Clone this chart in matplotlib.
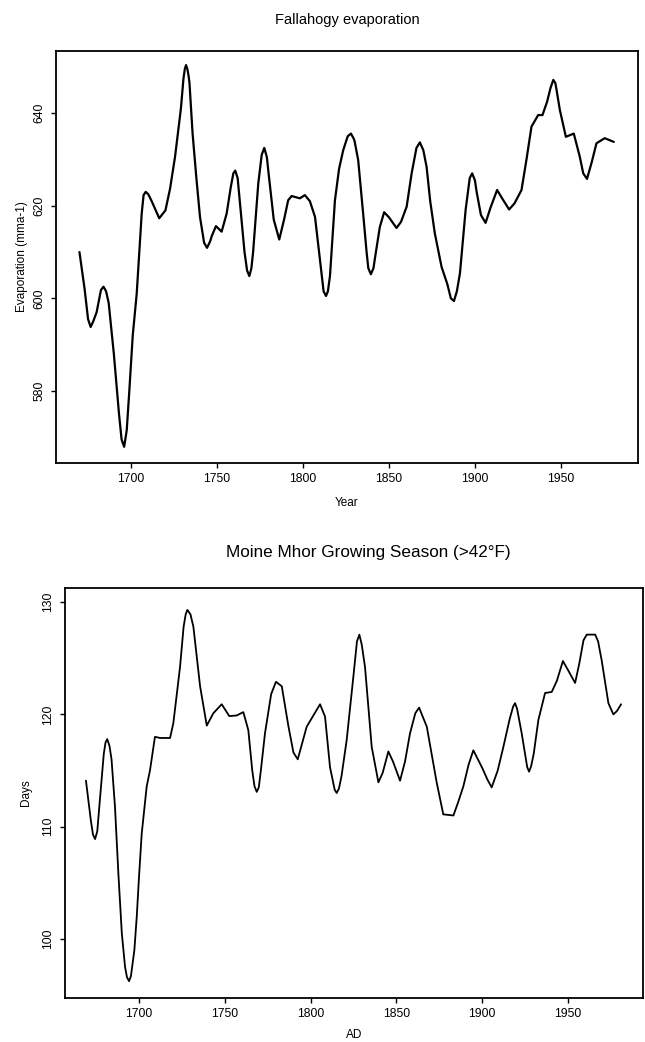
import matplotlib
matplotlib.use("Agg")
import matplotlib.pyplot as plt

plt.rcParams['font.family'] = ['Liberation Sans', 'DejaVu Sans']

# Fallahogy evaporation (mm a-1)
evap_year = [1670, 1673, 1675, 1676.5, 1678, 1680, 1682.5, 1684, 1685.5, 1687, 1690, 1693,
             1694.5, 1696, 1697.5, 1699, 1701, 1703.3,
             1706.2, 1707.3, 1708.5, 1710, 1712, 1716.4, 1720, 1722.7, 1725.6, 1729, 1730.5,
             1731.3, 1732, 1732.8, 1733.5, 1734, 1735.8,
             1738, 1740.1, 1742.5, 1744.2, 1746, 1747, 1749.4, 1752.7, 1755.6, 1758, 1759.5,
             1760.6, 1762, 1763, 1766, 1767.5,
             1768.8, 1770, 1771, 1774, 1776, 1777.5, 1779, 1780, 1783, 1786.2, 1789, 1791.4,
             1793.4, 1798.2,
             1801.1, 1804, 1807, 1810, 1812, 1813.4, 1814.5, 1815.7, 1818.6, 1821, 1823.4,
             1826, 1827.9, 1829.5, 1830,
             1832.1, 1835, 1837, 1838, 1839.5, 1841, 1842, 1844.7, 1847.2, 1850, 1854.4, 1857,
             1860.3,
             1863.2, 1866, 1868, 1870, 1871.9, 1874, 1876.7, 1880.6, 1884, 1886, 1887.8,
             1889.5, 1891.3,
             1894.6, 1897, 1898.4, 1900, 1901, 1903.5, 1906.2, 1909, 1912.9, 1916, 1919.9,
             1923, 1927.1,
             1930, 1932.9, 1936.8, 1939.3, 1942, 1944, 1945.6, 1946.8, 1947.5, 1949.4, 1952.9,
             1957.5,
             1961, 1963, 1965.2, 1968, 1970.7, 1975.5, 1980.8]
evap_val = [610.0, 602.0, 595.5, 593.8, 595.0, 597.0, 601.8, 602.5, 601.5, 599.0, 588.0, 575.0,
            569.5, 567.9, 571.5, 580.0, 592.0, 601.0,
            618.3, 622.3, 623.0, 622.5, 621.0, 617.3, 619.0, 623.7, 630.6, 641.0, 647.5,
            649.6, 650.4, 649.5, 648.0, 646.5, 635.6,
            626.0, 617.6, 612.0, 610.9, 612.3, 613.5, 615.6, 614.4, 618.3, 624.0, 627.0,
            627.6, 626.0, 622.0, 610.0, 606.0,
            604.8, 606.5, 610.0, 624.8, 631.0, 632.5, 630.5, 627.0, 617.0, 612.7, 617.0, 621.2,
            622.1, 621.6,
            622.3, 621.0, 617.6, 608.0, 601.5, 600.5, 601.5, 604.8, 621.2, 628.0, 632.0,
            635.0, 635.6, 634.5, 634.0,
            629.9, 618.3, 610.0, 606.5, 605.2, 606.5, 609.0, 615.4, 618.6, 617.5, 615.2, 616.5,
            619.8,
            627.0, 632.5, 633.7, 632.0, 628.4, 621.0, 614.0, 606.8, 603.0, 600.0, 599.4,
            601.5, 605.4,
            619.1, 626.0, 627.0, 625.5, 623.0, 618.0, 616.3, 619.5, 623.4, 621.5, 619.2,
            620.5, 623.4,
            630.0, 637.1, 639.6, 639.6, 642.5, 645.5, 647.2, 646.5, 645.0, 640.7, 634.9,
            635.6,
            630.6, 627.0, 625.8, 629.5, 633.5, 634.6, 633.8]

# Moine Mhor growing season (>42F), days
grow_year = [1669.1, 1672, 1673.2, 1674.4, 1675.7, 1677, 1679.5, 1680.5, 1681.5, 1682.8, 1684,
             1686, 1688, 1690, 1691.9,
             1693, 1694.2, 1695.3, 1696, 1697.3, 1698.7, 1700, 1701.6, 1704.5, 1706.4, 1709.3,
             1712.3,
             1718.1, 1720, 1723.9, 1726, 1727.2, 1728.2, 1730, 1731.7, 1735.6, 1739.5, 1743.3,
             1748.2, 1752.6, 1756.9, 1760.8, 1763.7, 1766, 1767.3, 1768.6, 1769.8, 1771, 1773.4,
             1777,
             1779.8, 1783.2, 1787, 1790, 1792.5, 1797.7, 1801.6, 1805.5, 1808.4, 1811.3,
             1814, 1815.2, 1816.5, 1818, 1821, 1825, 1827, 1828.4, 1829.8, 1831.7, 1835.6,
             1839.5, 1842, 1845.3, 1848,
             1852.1, 1855, 1857.9, 1861, 1863.2, 1867.7, 1873.5, 1877.3, 1883.2, 1886,
             1889, 1892, 1894.8, 1900.1, 1903, 1905.5, 1909, 1912.3, 1916, 1918, 1919.1,
             1920.3, 1923,
             1926.2, 1927.3, 1928.5, 1930, 1932.7, 1936.6, 1940.5, 1943.5, 1947, 1950.5,
             1954.1, 1956.5,
             1959, 1960.9, 1965.8, 1967.5, 1969.6, 1973.5, 1976.4, 1978.5, 1980.9]
grow_val = [114.1, 110.5, 109.3, 108.9, 109.6, 112.0, 116.5, 117.5, 117.8, 117.2, 116.0,
            111.8, 105.8, 100.5, 97.5,
            96.6, 96.25, 96.7, 97.5, 99.0, 102.0, 105.5, 109.4, 113.6, 115.0, 118.0,
            117.9,
            117.9, 119.2, 124.2, 127.8, 128.9, 129.3, 128.9, 127.8, 122.5, 119.0, 120.1,
            120.9, 119.85, 119.9, 120.2, 118.6, 115.0, 113.6, 113.1, 113.5, 115.0, 118.3,
            121.8,
            122.9, 122.5, 119.0, 116.6, 116.0, 118.9, 119.9, 120.9, 119.8, 115.3,
            113.3, 113.0, 113.4, 114.5, 117.7, 123.5, 126.5, 127.1, 126.2, 124.2, 117.1,
            113.95, 114.8, 116.7, 115.8,
            114.1, 115.8, 118.3, 120.1, 120.6, 118.9, 113.9, 111.1, 111.0, 112.2,
            113.6, 115.5, 116.8, 115.2, 114.2, 113.5, 115.0, 117.1, 119.6, 120.7, 121.0,
            120.5, 118.3,
            115.3, 114.9, 115.4, 116.5, 119.5, 121.9, 122.0, 123.0, 124.75, 123.8,
            122.8, 124.5,
            126.6, 127.1, 127.1, 126.5, 124.8, 121.0, 120.0, 120.3, 120.9]

evap_ticks = [580, 600, 620, 640]
grow_ticks = [100, 110, 120, 130]
year_ticks = [1700, 1750, 1800, 1850, 1900, 1950]

fig = plt.figure(figsize=(6.45, 10.42), dpi=100)

def style(ax):
    for s in ax.spines.values():
        s.set_linewidth(1.3)
        s.set_color('black')
    ax.tick_params(direction='out', length=3.5, width=1.0, labelsize=8.8, pad=4)

ax1 = fig.add_axes([0.0864, 0.5561, 0.9026, 0.3952])
ax1.plot(evap_year, evap_val, color='black', lw=1.6, solid_joinstyle='round',
         solid_capstyle='round')
ax1.set_xlim(1656.2, 1994.8)
ax1.set_ylim(564.5, 653.5)
ax1.set_xticks(year_ticks)
ax1.set_yticks(evap_ticks)
ax1.set_yticklabels([str(t) for t in evap_ticks], rotation=90, va='center')
style(ax1)
ax1.set_title('Fallahogy evaporation', fontsize=10.5, pad=19)
ax1.set_xlabel('Year', fontsize=8.5, labelpad=9)
ax1.set_ylabel('Evaporation (mma-1)', fontsize=8.5, labelpad=4)

ax2 = fig.add_axes([0.1000, 0.0422, 0.8970, 0.3935])
ax2.plot(grow_year, grow_val, color='black', lw=1.3, solid_joinstyle='round',
         solid_capstyle='round')
ax2.set_xlim(1656.6, 1993.7)
ax2.set_ylim(94.75, 131.25)
ax2.set_xticks(year_ticks)
ax2.set_yticks(grow_ticks)
ax2.set_yticklabels([str(t) for t in grow_ticks], rotation=90, va='center')
style(ax2)
fig.text(368 / 645, 1 - 553 / 1042, 'Moine Mhor Growing Season (>42°F)', fontsize=12.3,
         ha='center', va='center')
ax2.set_xlabel('AD', fontsize=8.5, labelpad=6)
ax2.set_ylabel('Days', fontsize=8.5, labelpad=7)

fig.savefig('out.png', dpi=100)
